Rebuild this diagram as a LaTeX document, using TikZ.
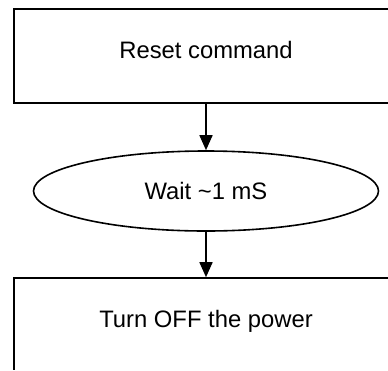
\documentclass[tikz,border=0pt]{standalone}
\usepackage{fontspec}
\setmainfont{Liberation Sans}
\usetikzlibrary{arrows.meta, shapes.geometric}

\begin{document}
\begin{tikzpicture}[x=1pt, y=-1pt,
    stepbox/.style={draw, line width=1.6pt, rectangle, minimum width=400pt, minimum height=94pt, inner sep=0pt, text depth=13pt},
    waitbox/.style={draw, line width=1.6pt, ellipse, minimum width=345pt, minimum height=80pt, inner sep=0pt},
    flow/.style={-{Triangle[length=15pt, width=13pt]}, line width=1.6pt}]
      \useasboundingbox (0,0) rectangle (388,370);
      \clip (-5,-5) rectangle (387.9,369.9);
      \fontsize{23.8}{28}\selectfont

      % Steps (boxes run out past the right edge)
      \node[stepbox, xshift=8pt] (reset) at (206,56) {\hspace*{-16pt}Reset command};
      \node[waitbox] (wait) at (206,191) {Wait \textasciitilde 1 mS};
      \node[stepbox, xshift=8pt] (off) at (206,325) {\hspace*{-16pt}Turn OFF the power};

      % Arrows
      \draw[flow] (reset.south -| wait) -- (wait);
      \draw[flow] (wait) -- (off.north -| wait);
    \end{tikzpicture}
\end{document}
